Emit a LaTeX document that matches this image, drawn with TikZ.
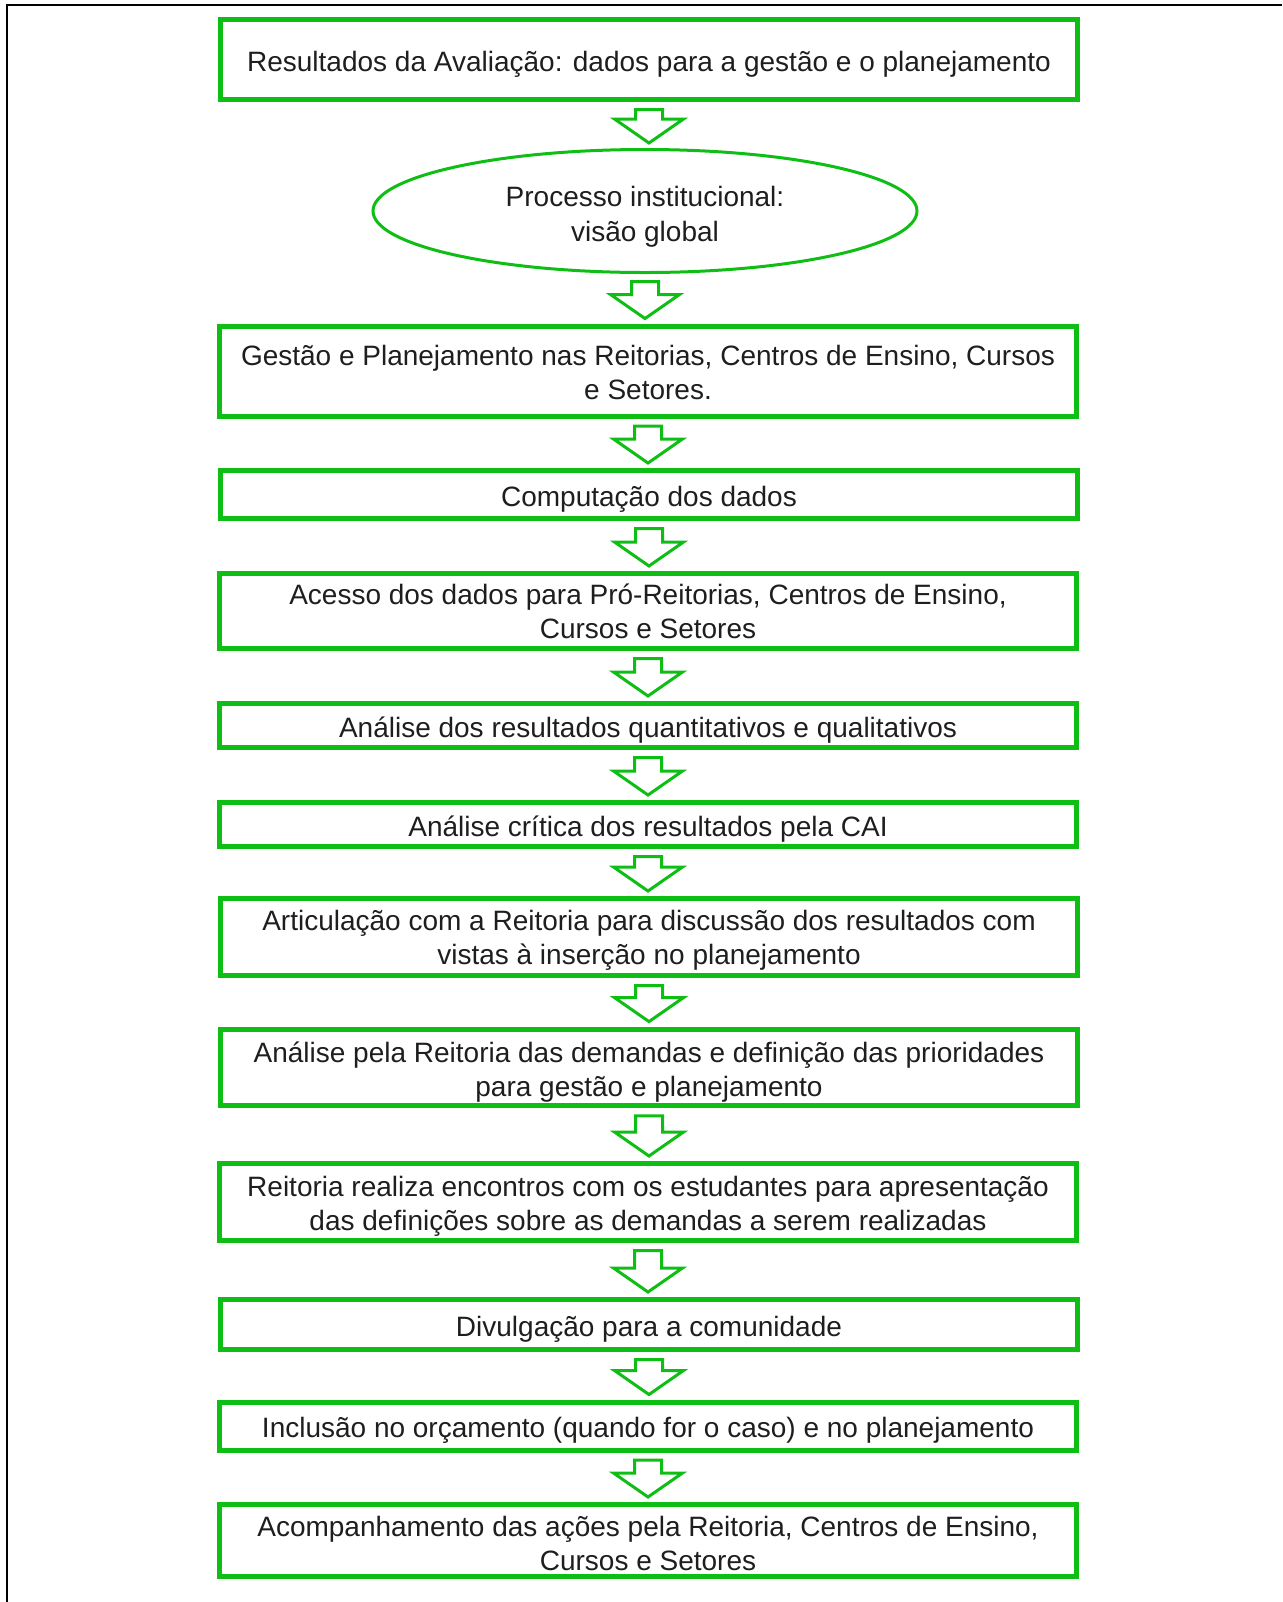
\documentclass[tikz,border=0pt]{standalone}
\usepackage{fontspec}
\setmainfont{Liberation Sans}
\usetikzlibrary{shapes.geometric, calc}

\definecolor{flowgreen}{RGB}{14,190,20}
\definecolor{flowtext}{RGB}{30,30,30}

\newcommand{\flowarrow}[2]{%
\draw[arrowbody] let \p1=(#1.south), \p2=(#2.north) in
  (\x1-6.75pt,\y1-3.75pt) -- (\x1+6.75pt,\y1-3.75pt) -- (\x1+6.75pt,\y2+14.5pt)
  -- (\x1+17.25pt,\y2+14.5pt) -- (\x1,\y2+2.5pt) -- (\x1-17.25pt,\y2+14.5pt)
  -- (\x1-6.75pt,\y2+14.5pt) -- cycle;}

\begin{document}
\begin{tikzpicture}[x=0.5pt,y=-0.5pt,
  lift/.style={execute at begin node={\rule{0pt}{#1}}},
  flowbox/.style={draw=flowgreen, line width=2.5pt, minimum width=428.5pt,
    align=center, inner sep=2pt, text=flowtext,
    font=\fontsize{14}{17}\selectfont, lift=14.5pt},
  flowoval/.style={ellipse, draw=flowgreen, line width=1.5pt, minimum width=272pt,
    minimum height=61.5pt, inner sep=0pt, align=center, text=flowtext,
    font=\fontsize{14}{17.5}\selectfont, lift=33pt},
  arrowbody/.style={draw=flowgreen, line width=1.5pt, line join=miter}]
\useasboundingbox (0,0) rectangle (1282,1602);
\draw[line width=1pt] (7,1602) -- (7,5) -- (1282,5);

\node[flowbox, minimum height=40pt] (resultados) at (649,59.5) {Resultados da Avaliação: dados para a gestão e o planejamento};
\node[flowoval] (processo) at (645,211) {Processo institucional:\\visão global};
\node[flowbox, minimum height=45pt, lift=28.5pt] (gestao) at (648,371) {Gestão e Planejamento nas Reitorias, Centros de Ensino, Cursos\\e Setores.};
\node[flowbox, minimum height=24pt] (computacao) at (649,494.5) {Computação dos dados};
\node[flowbox, minimum height=37.5pt, lift=27pt] (acesso) at (648,611) {Acesso dos dados para Pró-Reitorias, Centros de Ensino,\\Cursos e Setores};
\node[flowbox, minimum height=22pt, lift=12pt] (analise) at (648,725.5) {Análise dos resultados quantitativos e qualitativos};
\node[flowbox, minimum height=22pt, lift=12.5pt] (critica) at (648,824.5) {Análise crítica dos resultados pela CAI};
\node[flowbox, minimum height=38.5pt, lift=30.5pt] (articulacao) at (649,937) {Articulação com a Reitoria para discussão dos resultados com\\vistas à inserção no planejamento};
\node[flowbox, minimum height=38pt, lift=31.5pt] (demandas) at (649,1067.5) {Análise pela Reitoria das demandas e definição das prioridades\\para gestão e planejamento};
\node[flowbox, minimum height=38.5pt, lift=31.5pt] (encontros) at (648,1202) {Reitoria realiza encontros com os estudantes para apresentação\\das definições sobre as demandas a serem realizadas};
\node[flowbox, minimum height=25pt] (divulgacao) at (649,1324.5) {Divulgação para a comunidade};
\node[flowbox, minimum height=24pt] (inclusao) at (648,1426) {Inclusão no orçamento (quando for o caso) e no planejamento};
\node[flowbox, minimum height=36pt, lift=30.5pt] (acompanhamento) at (648,1540.5) {Acompanhamento das ações pela Reitoria, Centros de Ensino,\\Cursos e Setores};

\flowarrow{resultados}{processo}
\flowarrow{processo}{gestao}
\flowarrow{gestao}{computacao}
\flowarrow{computacao}{acesso}
\flowarrow{acesso}{analise}
\flowarrow{analise}{critica}
\flowarrow{critica}{articulacao}
\flowarrow{articulacao}{demandas}
\flowarrow{demandas}{encontros}
\flowarrow{encontros}{divulgacao}
\flowarrow{divulgacao}{inclusao}
\flowarrow{inclusao}{acompanhamento}

\end{tikzpicture}
\end{document}
